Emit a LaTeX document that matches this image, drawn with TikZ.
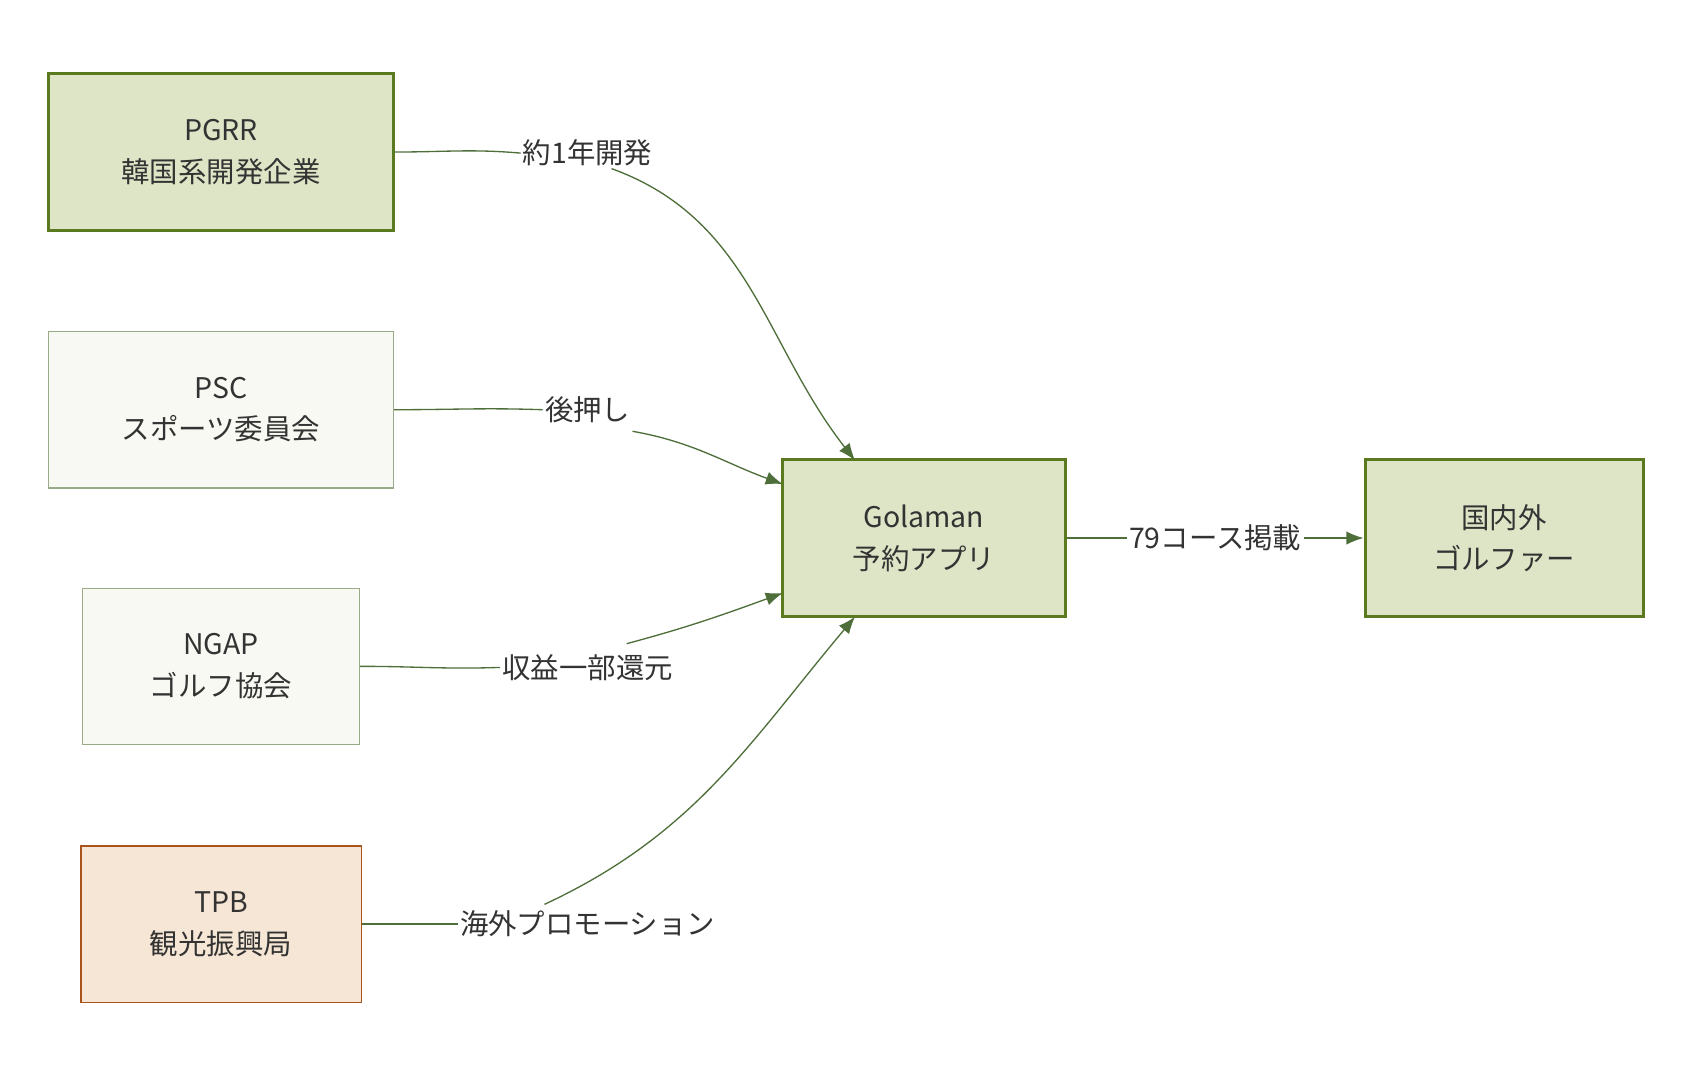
\documentclass[tikz,border=0pt]{standalone}
\usepackage{fontspec}
\setmainfont{Noto Sans CJK JP}
\usetikzlibrary{arrows.meta}
\definecolor{gfill}{HTML}{DDE5C6}
\definecolor{gdraw}{HTML}{5B7A1F}
\definecolor{pfill}{HTML}{F8F9F2}
\definecolor{pdraw}{HTML}{9AAA88}
\definecolor{ofill}{HTML}{F6E6D5}
\definecolor{odraw}{HTML}{A8541A}
\definecolor{edgec}{HTML}{4E6E3A}
\definecolor{txt}{HTML}{333333}
\begin{document}
\begin{tikzpicture}[x=0.02cm, y=-0.02cm,
    every node/.style={font=\fontsize{15}{22}\selectfont, text=txt, align=center},
    box/.style={rectangle, draw, minimum height=2.9cm, inner sep=0pt},
    strong/.style={box, fill=gfill, draw=gdraw, line width=1.6pt},
    pale/.style={box, fill=pfill, draw=pdraw, line width=0.7pt},
    tour/.style={box, fill=ofill, draw=odraw, line width=0.7pt},
    lbl/.style={fill=white, inner sep=1pt},
    edge/.style={draw=edgec, line width=0.7pt},
    arr/.style={edge, -{Latex[length=9pt,width=7pt]}}
    ]
    \useasboundingbox (0,0) rectangle (1560,998);

    % Boxes
    \node[strong, minimum width=6.4cm] (pgrr) at (205,141) {PGRR\\韓国系開発企業};
    \node[pale, minimum width=6.4cm] (psc) at (205,380) {PSC\\スポーツ委員会};
    \node[pale, minimum width=5.14cm] (ngap) at (205,618) {NGAP\\ゴルフ協会};
    \node[tour, minimum width=5.2cm] (tpb) at (205,857) {TPB\\観光振興局};
    \node[strong, minimum width=5.24cm] (golaman) at (857,499) {Golaman\\予約アプリ};
    \node[strong, minimum width=5.16cm] (golfer) at (1395,499) {国内外\\ゴルファー};

    % Arrow ends
    \coordinate (g1) at (793,427);
    \coordinate (g2) at (726,449);
    \coordinate (g3) at (726,550);
    \coordinate (g4) at (793,572);

    % Labels
    \node[lbl] (l1) at (545,142) {約1年開発};
    \node[lbl] (l2) at (545,380) {後押し};
    \node[lbl] (l3) at (545,619) {収益一部還元};
    \node[lbl] (l4) at (545,857) {海外プロモーション};
    \node[lbl] (l5) at (1127,499) {79コース掲載};

    % Connectors
    \draw[edge] (pgrr.east) to[out=0,in=175] (l1.west);
    \draw[arr] (l1.south east) ++(-40,0) to[out=-20,in=128] (g1);
    \draw[edge] (psc.east) to[out=0,in=178] (l2.west);
    \draw[arr] (l2.east) ++(0,20) to[out=-10,in=160] (g2);
    \draw[edge] (ngap.east) to[out=0,in=182] (l3.west);
    \draw[arr] (l3.east) ++(-45,-22) to[out=15,in=200] (g3);
    \draw[edge] (tpb.east) to[out=0,in=180] (l4.west);
    \draw[arr] (l4.north) ++(-40,-4) to[out=25,in=230] (g4);
    \draw[edge] (golaman.east) -- (l5.west);
    \draw[arr] (l5.east) -- (golfer.west);
\end{tikzpicture}
\end{document}
